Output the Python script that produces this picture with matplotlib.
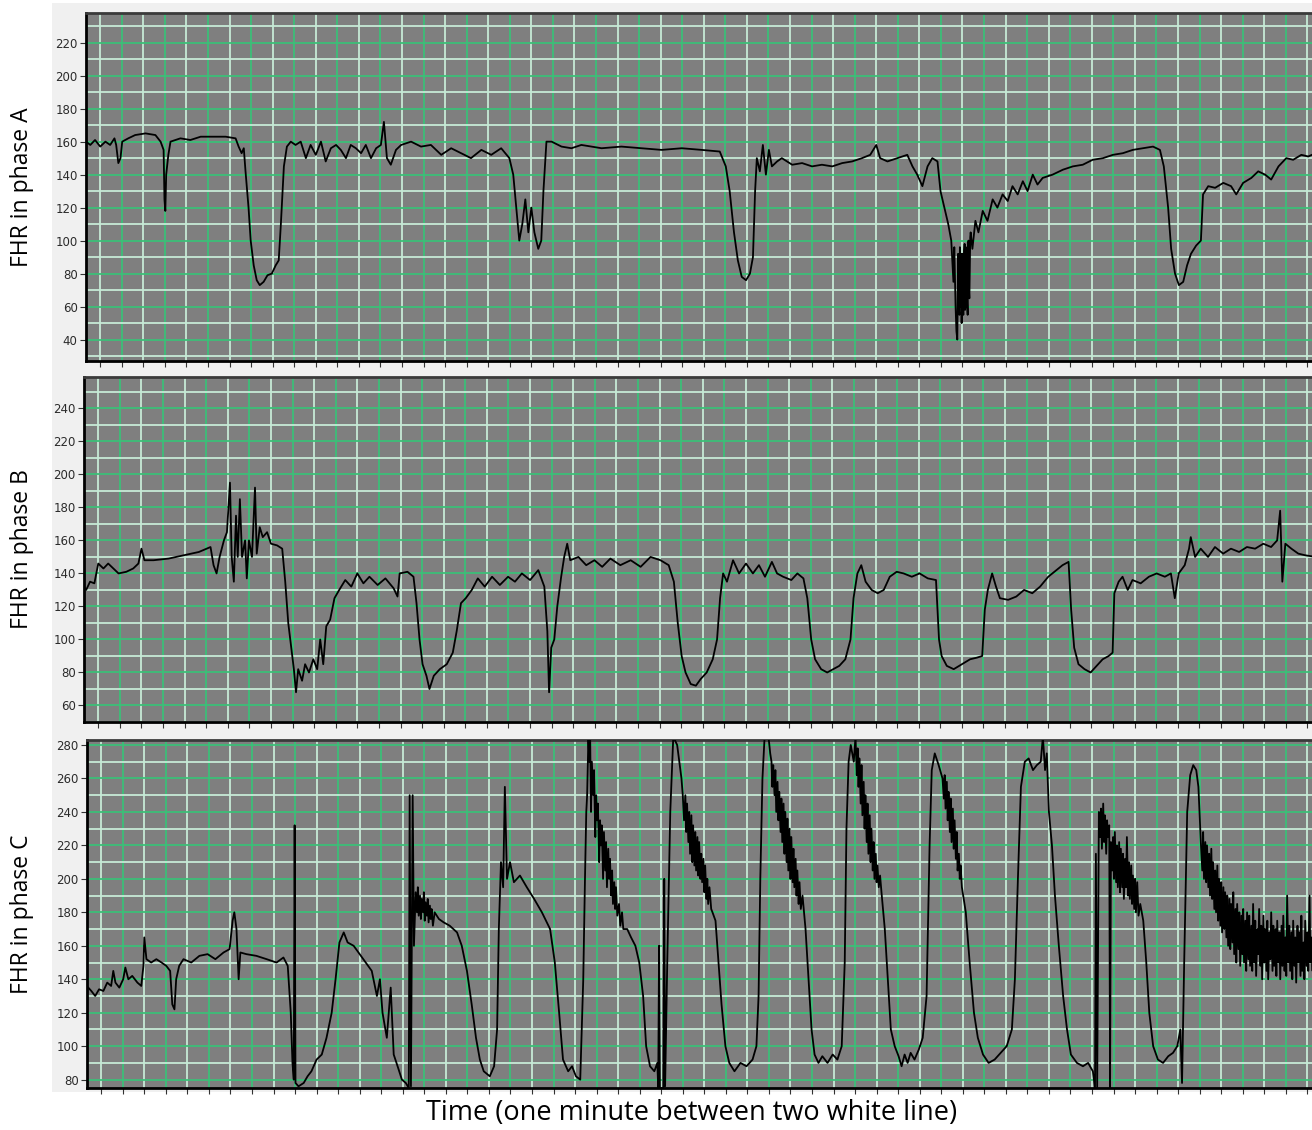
import numpy as np
import matplotlib
matplotlib.use("Agg")
import matplotlib.pyplot as plt
from matplotlib.patches import Rectangle
from matplotlib.ticker import MultipleLocator

# FHR traces, (time in minutes, bpm)
trace_a = [
    (-0.33, 160), (-0.23, 158), (-0.12, 161), (0.00, 157), (0.12, 160), (0.23, 158),
    (0.33, 162), (0.37, 158), (0.42, 147), (0.47, 150), (0.51, 160), (0.65, 162),
    (0.81, 164), (1.05, 165), (1.28, 164), (1.40, 160), (1.47, 155), (1.49, 125),
    (1.51, 118), (1.53, 140), (1.56, 147), (1.58, 152), (1.63, 160), (1.86, 162),
    (2.09, 161), (2.33, 163), (2.56, 163), (2.91, 163), (3.14, 162), (3.21, 157),
    (3.28, 153), (3.33, 156), (3.37, 142), (3.44, 120), (3.49, 100), (3.56, 85),
    (3.63, 76), (3.70, 73), (3.79, 75), (3.88, 79), (3.98, 80), (4.07, 85),
    (4.14, 88), (4.19, 110), (4.26, 145), (4.33, 157), (4.42, 160), (4.53, 158),
    (4.65, 160), (4.77, 150), (4.88, 158), (5.00, 152), (5.12, 160), (5.23, 148),
    (5.35, 156), (5.47, 158), (5.58, 155), (5.70, 150), (5.81, 158), (5.93, 156),
    (6.05, 153), (6.16, 158), (6.28, 150), (6.40, 156), (6.51, 158), (6.58, 172),
    (6.65, 150), (6.74, 146), (6.86, 155), (6.98, 158), (7.21, 160), (7.44, 157),
    (7.67, 158), (7.91, 152), (8.14, 156), (8.37, 153), (8.60, 150), (8.84, 155),
    (9.07, 152), (9.30, 156), (9.49, 150), (9.58, 140), (9.65, 120), (9.72, 100),
    (9.79, 110), (9.86, 125), (9.93, 105), (10.00, 120), (10.07, 105), (10.16, 95),
    (10.23, 100), (10.28, 130), (10.35, 160), (10.47, 160), (10.70, 157), (10.93, 156),
    (11.16, 158), (11.63, 156), (12.09, 157), (12.56, 156), (13.02, 155), (13.49, 156),
    (13.95, 155), (14.37, 154), (14.51, 145), (14.60, 130), (14.70, 105), (14.79, 88),
    (14.88, 78), (14.98, 76), (15.07, 80), (15.14, 90), (15.19, 130), (15.23, 150),
    (15.30, 142), (15.37, 158), (15.44, 140), (15.51, 155), (15.58, 145), (15.70, 148),
    (15.81, 150), (16.05, 146), (16.28, 147), (16.51, 145), (16.74, 146), (16.98, 145),
    (17.21, 147), (17.44, 148), (17.67, 150), (17.86, 152), (18.00, 158), (18.09, 150),
    (18.26, 148), (18.49, 150), (18.72, 152), (18.84, 145), (18.95, 140), (19.07, 133),
    (19.19, 145), (19.30, 150), (19.42, 148), (19.49, 130), (19.58, 120), (19.67, 110),
    (19.74, 100), (19.79, 75), (19.81, 96), (19.84, 60), (19.86, 45), (19.88, 40),
    (19.90, 92), (19.91, 60), (19.93, 55), (19.94, 96), (19.95, 60), (19.97, 92),
    (19.98, 50), (20.00, 92), (20.01, 62), (20.02, 55), (20.04, 94), (20.05, 98),
    (20.06, 58), (20.07, 60), (20.08, 96), (20.09, 95), (20.11, 62), (20.12, 55),
    (20.13, 98), (20.14, 100), (20.15, 70), (20.16, 65), (20.18, 102), (20.19, 105),
    (20.23, 95), (20.30, 112), (20.37, 105), (20.47, 118), (20.58, 112), (20.70, 125),
    (20.81, 120), (20.93, 128), (21.05, 124), (21.16, 133), (21.28, 128), (21.40, 136),
    (21.51, 130), (21.63, 140), (21.74, 134), (21.86, 138), (22.09, 140), (22.33, 143),
    (22.56, 145), (22.79, 146), (23.02, 149), (23.26, 150), (23.49, 152), (23.72, 153),
    (23.95, 155), (24.19, 156), (24.42, 157), (24.58, 155), (24.67, 145), (24.77, 120),
    (24.84, 95), (24.93, 80), (25.02, 73), (25.12, 75), (25.21, 85), (25.30, 92),
    (25.42, 97), (25.53, 100), (25.58, 128), (25.70, 133), (25.86, 132), (26.05, 135),
    (26.23, 133), (26.35, 128), (26.51, 135), (26.70, 138), (26.86, 142), (27.02, 140),
    (27.16, 137), (27.33, 145), (27.51, 150), (27.67, 149), (27.86, 152), (28.02, 151),
    (28.19, 153),
]

trace_b = [
    (-0.37, 133), (-0.28, 130), (-0.19, 135), (-0.09, 134), (0.00, 146), (0.12, 143),
    (0.23, 146), (0.35, 143), (0.47, 140), (0.65, 141), (0.81, 143), (0.93, 146),
    (1.00, 155), (1.07, 148), (1.28, 148), (1.63, 149), (1.98, 151), (2.33, 153),
    (2.60, 156), (2.67, 145), (2.74, 140), (2.81, 150), (2.91, 160), (2.98, 165),
    (3.05, 195), (3.09, 150), (3.14, 135), (3.19, 175), (3.23, 150), (3.28, 185),
    (3.33, 150), (3.40, 160), (3.44, 137), (3.49, 160), (3.56, 150), (3.63, 192),
    (3.67, 152), (3.74, 168), (3.81, 162), (3.91, 165), (4.00, 158), (4.14, 157),
    (4.26, 155), (4.33, 135), (4.40, 110), (4.47, 95), (4.53, 82), (4.58, 68),
    (4.63, 82), (4.72, 75), (4.79, 85), (4.88, 80), (4.98, 88), (5.07, 82),
    (5.14, 100), (5.21, 85), (5.28, 108), (5.37, 112), (5.47, 125), (5.58, 130),
    (5.72, 136), (5.86, 132), (6.00, 140), (6.14, 134), (6.28, 138), (6.47, 133),
    (6.65, 137), (6.84, 131), (6.93, 126), (6.98, 140), (7.16, 141), (7.30, 138),
    (7.37, 122), (7.44, 100), (7.51, 85), (7.60, 78), (7.67, 70), (7.77, 78),
    (7.91, 82), (8.07, 85), (8.21, 92), (8.30, 105), (8.40, 122), (8.51, 125),
    (8.65, 130), (8.79, 137), (8.95, 132), (9.12, 138), (9.30, 133), (9.49, 138),
    (9.65, 135), (9.81, 140), (10.00, 136), (10.19, 142), (10.33, 132), (10.40, 105),
    (10.44, 68), (10.49, 95), (10.56, 100), (10.63, 120), (10.72, 138), (10.79, 150),
    (10.86, 158), (10.93, 148), (11.12, 150), (11.30, 145), (11.49, 148), (11.67, 144),
    (11.86, 149), (12.09, 145), (12.33, 148), (12.56, 144), (12.79, 150), (13.02, 148),
    (13.21, 145), (13.33, 135), (13.42, 110), (13.51, 90), (13.60, 80), (13.72, 73),
    (13.84, 72), (13.95, 76), (14.09, 80), (14.23, 88), (14.33, 100), (14.40, 125),
    (14.47, 140), (14.56, 135), (14.70, 148), (14.84, 140), (15.00, 146), (15.16, 140),
    (15.30, 145), (15.44, 138), (15.60, 147), (15.72, 140), (15.86, 138), (16.05, 136),
    (16.19, 140), (16.33, 137), (16.42, 125), (16.51, 100), (16.60, 88), (16.74, 82),
    (16.88, 80), (17.02, 82), (17.16, 84), (17.30, 88), (17.42, 100), (17.49, 125),
    (17.58, 140), (17.67, 145), (17.77, 135), (17.91, 130), (18.05, 128), (18.19, 130),
    (18.33, 138), (18.49, 141), (18.65, 140), (18.84, 138), (19.02, 140), (19.21, 137),
    (19.40, 136), (19.47, 100), (19.53, 90), (19.65, 84), (19.81, 82), (20.00, 85),
    (20.19, 88), (20.35, 89), (20.47, 90), (20.53, 118), (20.60, 130), (20.70, 140),
    (20.79, 132), (20.88, 125), (21.07, 124), (21.26, 126), (21.44, 130), (21.63, 128),
    (21.81, 132), (22.00, 138), (22.19, 142), (22.33, 145), (22.47, 147), (22.53, 118),
    (22.60, 95), (22.70, 85), (22.84, 82), (22.98, 80), (23.12, 84), (23.26, 88),
    (23.40, 90), (23.49, 92), (23.53, 128), (23.63, 135), (23.72, 138), (23.84, 130),
    (23.95, 136), (24.14, 134), (24.33, 138), (24.51, 140), (24.70, 138), (24.84, 140),
    (24.93, 125), (25.02, 140), (25.16, 145), (25.26, 155), (25.30, 162), (25.40, 150),
    (25.53, 155), (25.70, 150), (25.86, 156), (26.05, 152), (26.23, 155), (26.42, 153),
    (26.60, 156), (26.79, 155), (26.98, 158), (27.16, 156), (27.30, 160), (27.37, 178),
    (27.42, 135), (27.49, 158), (27.63, 155), (27.79, 152), (27.95, 151), (28.19, 150),
]

trace_c = [
    (-0.30, 135), (-0.23, 133), (-0.14, 130), (-0.05, 134), (0.05, 133), (0.14, 138),
    (0.23, 136), (0.28, 145), (0.33, 138), (0.42, 135), (0.51, 140), (0.56, 147),
    (0.63, 140), (0.72, 142), (0.84, 138), (0.93, 136), (0.98, 148), (1.00, 165),
    (1.05, 152), (1.16, 150), (1.28, 152), (1.40, 150), (1.51, 148), (1.60, 145),
    (1.65, 125), (1.70, 122), (1.74, 140), (1.81, 148), (1.91, 152), (2.09, 150),
    (2.28, 154), (2.47, 155), (2.65, 152), (2.84, 156), (2.98, 158), (3.05, 175),
    (3.09, 180), (3.14, 170), (3.19, 140), (3.23, 156), (3.37, 155), (3.60, 154),
    (3.84, 152), (4.07, 150), (4.23, 153), (4.33, 148), (4.40, 120), (4.44, 90),
    (4.47, 80), (4.49, 232), (4.51, 78), (4.58, 76), (4.70, 78), (4.79, 82),
    (4.88, 85), (5.00, 92), (5.12, 95), (5.23, 105), (5.35, 120), (5.44, 140),
    (5.53, 162), (5.63, 168), (5.72, 162), (5.86, 160), (6.00, 155), (6.14, 150),
    (6.28, 145), (6.40, 130), (6.47, 140), (6.53, 120), (6.63, 105), (6.72, 135),
    (6.79, 95), (6.88, 88), (6.98, 80), (7.07, 78), (7.14, 75), (7.16, 250),
    (7.19, 76), (7.23, 250), (7.26, 160), (7.30, 192), (7.33, 180), (7.35, 195),
    (7.37, 178), (7.40, 190), (7.42, 176), (7.44, 188), (7.47, 180), (7.49, 192),
    (7.51, 175), (7.53, 186), (7.56, 178), (7.58, 188), (7.60, 174), (7.63, 184),
    (7.65, 176), (7.67, 182), (7.70, 172), (7.74, 180), (7.84, 176), (7.95, 174),
    (8.09, 172), (8.26, 168), (8.37, 160), (8.49, 145), (8.60, 125), (8.70, 105),
    (8.79, 92), (8.88, 85), (9.02, 82), (9.12, 88), (9.19, 110), (9.23, 170),
    (9.28, 210), (9.33, 195), (9.37, 255), (9.42, 200), (9.49, 210), (9.58, 198),
    (9.72, 202), (9.88, 195), (10.05, 188), (10.23, 180), (10.42, 170), (10.53, 150),
    (10.63, 120), (10.72, 92), (10.84, 85), (10.93, 88), (11.02, 82), (11.12, 80),
    (11.19, 140), (11.23, 200), (11.26, 240), (11.28, 250), (11.31, 285), (11.33, 270),
    (11.35, 285), (11.37, 240), (11.39, 270), (11.42, 250), (11.44, 265), (11.47, 225),
    (11.49, 250), (11.51, 235), (11.53, 245), (11.56, 210), (11.58, 235), (11.60, 220),
    (11.62, 232), (11.65, 200), (11.67, 228), (11.70, 205), (11.72, 222), (11.74, 195),
    (11.77, 218), (11.79, 200), (11.81, 212), (11.84, 190), (11.86, 205), (11.88, 185),
    (11.91, 198), (11.93, 182), (11.95, 195), (11.98, 178), (12.02, 185), (12.05, 172),
    (12.09, 180), (12.12, 170), (12.21, 170), (12.30, 165), (12.40, 160), (12.49, 150),
    (12.58, 130), (12.65, 100), (12.74, 88), (12.84, 85), (12.91, 90), (12.93, 75),
    (12.95, 160), (12.97, 75), (13.05, 75), (13.07, 200), (13.09, 76), (13.14, 150),
    (13.21, 240), (13.28, 285), (13.37, 280), (13.42, 270), (13.47, 260), (13.50, 250),
    (13.53, 235), (13.56, 250), (13.58, 228), (13.60, 245), (13.63, 222), (13.65, 240),
    (13.67, 215), (13.70, 238), (13.72, 210), (13.74, 232), (13.77, 208), (13.79, 228),
    (13.81, 205), (13.84, 225), (13.86, 202), (13.88, 222), (13.91, 200), (13.93, 215),
    (13.95, 198), (13.98, 212), (14.00, 192), (14.02, 208), (14.05, 188), (14.07, 200),
    (14.09, 185), (14.12, 195), (14.16, 182), (14.19, 180), (14.26, 175), (14.33, 150),
    (14.40, 125), (14.49, 100), (14.58, 90), (14.70, 85), (14.84, 90), (14.98, 88),
    (15.12, 92), (15.21, 100), (15.26, 130), (15.30, 200), (15.35, 260), (15.40, 285),
    (15.49, 285), (15.53, 275), (15.56, 270), (15.58, 255), (15.60, 268), (15.63, 250),
    (15.65, 265), (15.67, 240), (15.70, 258), (15.72, 235), (15.74, 252), (15.77, 228),
    (15.79, 248), (15.81, 222), (15.84, 245), (15.86, 215), (15.88, 240), (15.91, 210),
    (15.93, 236), (15.95, 205), (15.98, 230), (16.00, 200), (16.02, 225), (16.05, 198),
    (16.07, 218), (16.09, 195), (16.12, 212), (16.14, 190), (16.16, 205), (16.19, 185),
    (16.21, 198), (16.24, 182), (16.28, 190), (16.35, 170), (16.42, 140), (16.49, 110),
    (16.56, 95), (16.65, 90), (16.74, 94), (16.86, 90), (16.98, 95), (17.09, 92),
    (17.19, 100), (17.26, 150), (17.30, 230), (17.35, 270), (17.40, 280), (17.47, 270),
    (17.51, 285), (17.54, 262), (17.56, 278), (17.58, 255), (17.60, 272), (17.63, 245),
    (17.65, 268), (17.67, 238), (17.70, 258), (17.72, 230), (17.74, 250), (17.77, 222),
    (17.79, 245), (17.81, 215), (17.84, 238), (17.86, 210), (17.88, 230), (17.91, 205),
    (17.93, 222), (17.95, 200), (17.98, 215), (18.00, 198), (18.02, 208), (18.05, 195),
    (18.08, 202), (18.12, 190), (18.19, 170), (18.26, 140), (18.33, 110), (18.42, 100),
    (18.51, 94), (18.58, 88), (18.65, 95), (18.72, 90), (18.79, 96), (18.88, 92),
    (18.98, 98), (19.07, 105), (19.16, 130), (19.23, 220), (19.28, 265), (19.35, 275),
    (19.44, 268), (19.53, 260), (19.56, 248), (19.58, 262), (19.60, 242), (19.63, 258),
    (19.65, 235), (19.67, 252), (19.70, 228), (19.72, 248), (19.74, 222), (19.77, 242),
    (19.79, 218), (19.81, 235), (19.84, 212), (19.86, 228), (19.88, 205), (19.91, 215),
    (19.93, 200), (19.95, 208), (19.98, 195), (20.07, 180), (20.16, 150), (20.26, 120),
    (20.35, 105), (20.47, 95), (20.60, 90), (20.74, 92), (20.88, 96), (21.02, 100),
    (21.14, 110), (21.21, 140), (21.28, 200), (21.35, 255), (21.44, 270), (21.53, 272),
    (21.63, 265), (21.72, 268), (21.81, 270), (21.86, 285), (21.91, 265), (21.95, 275),
    (22.00, 240), (22.07, 220), (22.14, 190), (22.23, 160), (22.33, 130), (22.42, 110),
    (22.51, 95), (22.65, 90), (22.79, 88), (22.91, 90), (23.02, 85), (23.07, 75),
    (23.09, 215), (23.12, 75), (23.16, 240), (23.19, 225), (23.21, 242), (23.23, 218),
    (23.26, 245), (23.28, 222), (23.30, 238), (23.33, 215), (23.35, 235), (23.37, 225),
    (23.40, 232), (23.42, 75), (23.44, 222), (23.47, 205), (23.49, 225), (23.51, 200),
    (23.53, 228), (23.56, 198), (23.58, 220), (23.60, 195), (23.63, 222), (23.65, 192),
    (23.67, 218), (23.70, 195), (23.72, 215), (23.74, 188), (23.77, 212), (23.79, 195),
    (23.81, 225), (23.84, 190), (23.86, 210), (23.88, 188), (23.91, 208), (23.93, 185),
    (23.95, 202), (23.98, 182), (24.00, 200), (24.02, 180), (24.05, 198), (24.08, 178),
    (24.12, 185), (24.19, 175), (24.26, 150), (24.33, 120), (24.42, 100), (24.53, 92),
    (24.65, 90), (24.77, 94), (24.88, 96), (24.98, 100), (25.05, 110), (25.09, 78),
    (25.14, 150), (25.21, 240), (25.28, 262), (25.35, 268), (25.42, 265), (25.47, 255),
    (25.53, 220), (25.56, 205), (25.58, 228), (25.60, 200), (25.63, 222), (25.65, 198),
    (25.67, 220), (25.70, 195), (25.72, 215), (25.74, 190), (25.77, 218), (25.79, 188),
    (25.81, 210), (25.84, 182), (25.86, 205), (25.88, 180), (25.91, 208), (25.93, 175),
    (25.95, 200), (25.98, 172), (26.00, 198), (26.02, 168), (26.05, 195), (26.07, 170),
    (26.09, 192), (26.12, 165), (26.14, 190), (26.16, 160), (26.19, 188), (26.21, 158),
    (26.23, 185), (26.26, 162), (26.28, 192), (26.30, 155), (26.33, 182), (26.35, 150),
    (26.37, 185), (26.40, 158), (26.42, 180), (26.44, 148), (26.47, 178), (26.49, 155),
    (26.51, 182), (26.53, 150), (26.56, 175), (26.58, 145), (26.60, 180), (26.63, 152),
    (26.65, 178), (26.67, 148), (26.70, 172), (26.72, 145), (26.74, 185), (26.77, 150),
    (26.79, 175), (26.81, 142), (26.84, 170), (26.86, 155), (26.88, 182), (26.91, 148),
    (26.93, 172), (26.95, 140), (26.98, 178), (27.00, 150), (27.02, 170), (27.05, 145),
    (27.07, 175), (27.09, 140), (27.12, 168), (27.14, 152), (27.16, 180), (27.19, 145),
    (27.21, 172), (27.23, 148), (27.26, 170), (27.28, 142), (27.30, 175), (27.33, 150),
    (27.35, 168), (27.37, 140), (27.40, 172), (27.42, 148), (27.44, 178), (27.47, 145),
    (27.49, 165), (27.51, 142), (27.53, 190), (27.56, 150), (27.58, 172), (27.60, 145),
    (27.63, 168), (27.65, 140), (27.67, 175), (27.70, 148), (27.72, 165), (27.74, 138),
    (27.77, 172), (27.79, 150), (27.81, 168), (27.84, 142), (27.86, 178), (27.88, 145),
    (27.91, 162), (27.93, 140), (27.95, 175), (27.98, 148), (28.00, 168), (28.02, 145),
    (28.05, 190), (28.07, 150), (28.09, 165), (28.12, 145), (28.14, 170), (28.17, 148),
    (28.19, 160),
]

ylabels = ["FHR in phase A", "FHR in phase B", "FHR in phase C"]
yticks_a = [40, 60, 80, 100, 120, 140, 160, 180, 200, 220]
yticks_b = [60, 80, 100, 120, 140, 160, 180, 200, 220, 240]
yticks_c = [80, 100, 120, 140, 160, 180, 200, 220, 240, 260, 280]
ylims = [(27, 238), (50, 259), (75, 283)]
xlim = (-0.33, 28.2)

W, H = 1312, 1130
fig = plt.figure(figsize=(W / 100, H / 100), dpi=100)
fig.patch.set_facecolor("white")

# light panel behind the three strips
fig.add_artist(Rectangle((52 / W, 1 - 1092 / H), (W - 52) / W, 1089 / H,
                         transform=fig.transFigure, facecolor="#f0f0f0",
                         edgecolor="none", zorder=0))

# pixel boxes (left, top, bottom) of each strip
boxes = [(86, 13, 361), (84, 377, 722), (87, 740, 1088)]
traces = [trace_a, trace_b, trace_c]
yticks = [yticks_a, yticks_b, yticks_c]

green = "#3cbf78"
pale = "#c6ead6"

for box, trace, ticks, lim, lab in zip(boxes, traces, yticks, ylims, ylabels):
    left, top, bottom = box
    ax = fig.add_axes([left / W, 1 - bottom / H, (W + 4 - left) / W, (bottom - top) / H])
    ax.set_facecolor("#7f7f7f")
    t, fhr = np.array(trace).T
    ax.plot(t, fhr, color="black", lw=1.3, zorder=3)

    ax.set_xlim(*xlim)
    ax.set_ylim(*lim)
    ax.set_yticks(ticks)
    ax.yaxis.set_minor_locator(MultipleLocator(10))
    ax.xaxis.set_major_locator(MultipleLocator(1.0))
    ax.xaxis.set_minor_locator(MultipleLocator(0.5))
    ax.set_axisbelow(True)
    ax.grid(which="major", axis="y", color=green, lw=1.3)
    ax.grid(which="minor", axis="y", color=pale, lw=1.3)
    ax.grid(which="major", axis="x", color=pale, lw=1.3)
    ax.grid(which="minor", axis="x", color=green, lw=1.3)

    ax.tick_params(axis="y", which="major", labelsize=8.5, labelcolor="#2b2b2b",
                   length=4, width=0.8, color="#333333", pad=2)
    ax.tick_params(axis="y", which="minor", length=0)
    ax.tick_params(axis="x", which="both", labelbottom=False, length=4,
                   width=0.8, color="#333333")

    for side in ["left", "bottom"]:
        ax.spines[side].set_color("black")
        ax.spines[side].set_linewidth(2.0)
    ax.spines["top"].set_color("#3a3a3a")
    ax.spines["top"].set_linewidth(2.0)
    ax.spines["right"].set_visible(False)

    fig.text(22 / W, 1 - (top + bottom) / 2 / H, lab, rotation=90,
             ha="center", va="center", fontsize=16.5, family="Open Sans")

fig.text(692 / W, 1 - 1113 / H, "Time (one minute between two white line)",
         ha="center", va="center", fontsize=19.5, family="Open Sans")

fig.savefig("out.png", dpi=100, facecolor=fig.get_facecolor())
